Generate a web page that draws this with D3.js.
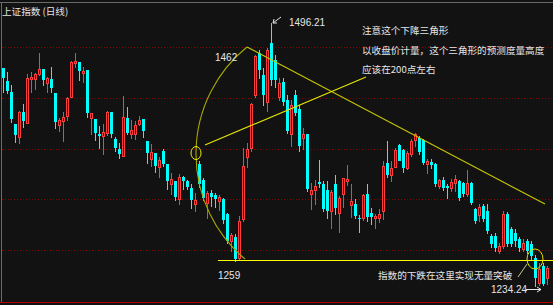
<!DOCTYPE html>
<html><head><meta charset="utf-8">
<script src="https://cdn.jsdelivr.net/npm/d3@7/dist/d3.min.js"></script>
<style>html,body{margin:0;padding:0;background:#121212;}svg{display:block;}</style>
</head><body>
<svg id="c" width="553" height="305"></svg>
<script>
// ---- data (Shanghai Composite, daily candles) ----
const openP = [1451,1438,1427,1396,1383,1408,1397,1440,1440,1445,
1450,1436,1440,1426,1395,1399,1404,1422,1456,1457,
1446,1449,1402,1401,1386,1384,1387,1408,1381,1371,
1364,1402,1386,1386,1396,1401,1379,1361,1367,1353,
1369,1356,1336,1339,1321,1343,1339,1332,1316,1356,
1340,1317,1327,1325,1319,1321,1306,1279,1283,1262,
1301,1363,1372,1424,1466,1444,1417,1476,1459,1422,
1437,1419,1386,1424,1410,1382,1386,1326,1330,1338,
1336,1330,1309,1336,1307,1326,1339,1315,1316,1302,
1302,1326,1307,1302,1302,1309,1357,1345,1353,1375,
1370,1352,1366,1380,1382,1380,1356,1358,1356,1334,
1340,1334,1332,1337,1339,1337,1326,1337,1311,1305,
1314,1309,1284,1284,1269,1274,1306,1291,1287,1281,
1271,1279,1276,1262,1237,1254,1242];
const highP = [1451,1447,1434,1396,1409,1415,1445,1447,1446,1466,
1450,1442,1452,1426,1402,1408,1422,1458,1466,1457,
1452,1449,1407,1401,1394,1396,1409,1408,1383,1377,
1423,1412,1400,1399,1404,1401,1379,1376,1367,1363,
1371,1356,1347,1339,1346,1344,1340,1336,1327,1359,
1342,1329,1330,1327,1325,1322,1307,1287,1286,1304,
1372,1377,1416,1464,1469,1451,1471,1496.21,1464,1441,
1441,1424,1419,1429,1414,1392,1386,1337,1340,1360,
1339,1339,1330,1345,1324,1342,1355,1336,1321,1305,
1326,1336,1312,1306,1311,1359,1379,1359,1372,1376,
1371,1369,1381,1387,1384,1381,1361,1361,1357,1341,
1343,1336,1341,1345,1340,1338,1350,1338,1312,1316,
1316,1316,1286,1287,1277,1309,1308,1293,1291,1283,
1281,1281,1279,1265,1257,1257,1254];
const lowP = [1427,1426,1398,1378,1377,1393,1397,1427,1430,1444,
1434,1427,1427,1392,1389,1379,1400,1422,1452,1439,
1437,1403,1386,1380,1372,1366,1385,1383,1369,1362,
1364,1386,1382,1381,1395,1383,1357,1354,1348,1343,
1354,1331,1326,1320,1316,1331,1331,1312,1309,1333,
1320,1302,1314,1313,1310,1297,1277,1269,1259,1261,
1299,1353,1369,1422,1441,1414,1409,1434,1432,1419,
1414,1387,1374,1405,1369,1371,1329,1311,1316,1333,
1309,1302,1292,1306,1288,1313,1335,1303,1302,1288,
1300,1299,1296,1292,1298,1301,1343,1339,1353,1359,
1348,1351,1364,1374,1366,1356,1347,1352,1334,1332,
1330,1322,1329,1329,1320,1324,1324,1316,1297,1299,
1299,1287,1273,1269,1267,1272,1274,1274,1274,1269,
1269,1267,1261,1234.24,1235,1235,1236];
const closeP = [1441,1428,1401,1385,1408,1399,1441,1442,1445,1450,
1439,1441,1431,1398,1400,1403,1421,1457,1458,1448,
1448,1407,1407,1387,1384,1388,1408,1386,1372,1366,
1403,1387,1390,1395,1400,1389,1367,1368,1354,1360,
1356,1339,1341,1323,1343,1339,1333,1320,1320,1336,
1322,1327,1323,1321,1323,1300,1279,1285,1261,1299,
1354,1371,1415,1463,1449,1424,1469,1439,1439,1436,
1417,1389,1414,1407,1374,1386,1331,1330,1334,1336,
1311,1309,1328,1312,1322,1342,1341,1319,1304,1301,
1325,1303,1303,1304,1306,1354,1345,1352,1370,1359,
1352,1367,1379,1386,1368,1357,1359,1355,1336,1340,
1332,1332,1338,1341,1322,1326,1337,1317,1299,1313,
1301,1289,1276,1272,1274,1306,1276,1276,1279,1272,
1277,1269,1264,1242,1251,1236,1252];

const gridPrices = [1472, 1421.5, 1371, 1320.5, 1270];
const highLabel = "1496.21", apexLabel = "1462", supportLabel = "1259", lowLabel = "1234.24";
const title = "上证指数 (日线)";
const noteLines = ["注意这个下降三角形", "以收盘价计量，这个三角形的预测度量高度", "应该在200点左右"];
const bottomNote = "指数的下跌在这里实现无量突破";

// annotation anchors: [index, price]
const apex = [61, 1472.3];
const resistEnd = [135.5, 1315.8];
const arcMid = [48.25, 1366.6];
const arcEnd = [60.5, 1261];
const pointerStart = [50.5, 1374.6], pointerEnd = [90.75, 1442.4];
const supportPrice = 1259, supportFrom = 53.75, supportTo = 137.5;
const breakCircle = [133, 1261];
const breakTick = [[131, 1256], [128.75, 1243]];

// ---- scales ----
const n = openP.length;
const x = d3.scaleLinear().domain([0, n - 1]).range([3, 3 + 4 * (n - 1)]);
const y = d3.scaleLinear().domain([1259, 1496.21]).range([261, 23]);
const px = p => [x(p[0]), y(p[1])];

const svg = d3.select("#c");
svg.append("rect").attr("width", 553).attr("height", 305).attr("fill", "#121212");
// frame
svg.append("line").attr("x1", 0).attr("x2", 553).attr("y1", 2.5).attr("y2", 2.5).attr("stroke", "#6a6a6a");
svg.append("line").attr("x1", 1.5).attr("x2", 1.5).attr("y1", 2).attr("y2", 302).attr("stroke", "#6a6a6a");
svg.append("line").attr("x1", 0).attr("x2", 553).attr("y1", 302.5).attr("y2", 302.5).attr("stroke", "#b00000");

// grid
svg.append("g").selectAll("line").data(gridPrices).join("line")
  .attr("x1", 2).attr("x2", 553)
  .attr("y1", d => Math.round(y(d)) + 0.5).attr("y2", d => Math.round(y(d)) + 0.5)
  .attr("stroke", "#8a0000").attr("stroke-dasharray", "1,2");

// candles
const idx = d3.range(n);
const RED = "#ff3c3c", CYAN = "#00ffff";
const g = svg.append("g");
idx.forEach(i => {
  const o = openP[i], c = closeP[i], h = highP[i], l = lowP[i];
  const cx = Math.round(x(i));
  const up = c >= o;
  const yt = Math.round(y(Math.max(o, c))), yb = Math.round(y(Math.min(o, c)));
  const yh = Math.round(y(h)), yl = Math.round(y(l));
  const col = up ? RED : CYAN;
  if (yt > yh) g.append("line").attr("x1", cx + .5).attr("x2", cx + .5).attr("y1", yh).attr("y2", yt).attr("stroke", col);
  if (yl > yb) g.append("line").attr("x1", cx + .5).attr("x2", cx + .5).attr("y1", yb).attr("y2", yl + 1).attr("stroke", col);
  if (up) {
    if (yb - yt >= 2) {
      g.append("rect").attr("x", cx - 0.5).attr("y", yt + 0.5).attr("width", 2).attr("height", yb - yt - 1 + 1)
        .attr("fill", "#2a0c0c").attr("stroke", col);
    } else {
      g.append("rect").attr("x", cx - 1).attr("y", yt).attr("width", 3).attr("height", Math.max(1, yb - yt + 1)).attr("fill", col);
    }
  } else {
    g.append("rect").attr("x", cx - 1).attr("y", yt).attr("width", 3).attr("height", Math.max(1, yb - yt)).attr("fill", col);
  }
});

// ---- annotations ----
const ann = svg.append("g");
// support line
ann.append("line").attr("x1", x(supportFrom)).attr("x2", x(supportTo))
  .attr("y1", Math.round(y(supportPrice)) - 0.5).attr("y2", Math.round(y(supportPrice)) - 0.5)
  .attr("stroke", "#ffff00").attr("stroke-width", 1.2);
// resistance line
const [ax, ay] = px(apex), [rx, ry] = px(resistEnd);
ann.append("line").attr("x1", ax).attr("y1", ay).attr("x2", rx).attr("y2", ry)
  .attr("stroke", "#c8c800").attr("stroke-width", 1.1);
// arc through apex, mid, end
const [mx, my] = px(arcMid), [ex, ey] = px(arcEnd);
function circ(p1, p2, p3) {
  const [x1, y1] = p1, [x2, y2] = p2, [x3, y3] = p3;
  const d = 2 * (x1 * (y2 - y3) + x2 * (y3 - y1) + x3 * (y1 - y2));
  const ux = ((x1*x1 + y1*y1) * (y2 - y3) + (x2*x2 + y2*y2) * (y3 - y1) + (x3*x3 + y3*y3) * (y1 - y2)) / d;
  const uy = ((x1*x1 + y1*y1) * (x3 - x2) + (x2*x2 + y2*y2) * (x1 - x3) + (x3*x3 + y3*y3) * (x2 - x1)) / d;
  return [ux, uy, Math.hypot(x1 - ux, y1 - uy)];
}
const [ccx, ccy, cr] = circ([ax, ay], [mx, my], [ex, ey]);
const path = d3.path();
const a0 = Math.atan2(ay - ccy, ax - ccx), a1 = Math.atan2(ey - ccy, ex - ccx);
path.arc(ccx, ccy, cr, a0, a1, true);
ann.append("path").attr("d", path.toString()).attr("fill", "none").attr("stroke", "#a8a800").attr("stroke-width", 1.1);
// small circle on arc
ann.append("ellipse").attr("cx", mx).attr("cy", my).attr("rx", 5).attr("ry", 6.5)
  .attr("fill", "none").attr("stroke", "#eeee00").attr("stroke-width", 1);
// pointer line
const [p1x, p1y] = px(pointerStart), [p2x, p2y] = px(pointerEnd);
ann.append("line").attr("x1", p1x).attr("y1", p1y).attr("x2", p2x).attr("y2", p2y)
  .attr("stroke", "#e6e600").attr("stroke-width", 1.1);
// breakdown circle
const [bx, by] = px(breakCircle);
ann.append("ellipse").attr("cx", bx).attr("cy", by).attr("rx", 8).attr("ry", 10)
  .attr("fill", "none").attr("stroke", "#e0e000").attr("stroke-width", 1);
const [t1x, t1y] = px(breakTick[0]), [t2x, t2y] = px(breakTick[1]);
ann.append("line").attr("x1", t1x).attr("y1", t1y).attr("x2", t2x).attr("y2", t2y)
  .attr("stroke", "#c8c890").attr("stroke-width", 1);

// texts
const TXT = "#e6e6e6";
const cjk = "'Noto Sans CJK SC', sans-serif", num = "'Liberation Sans', Arial, sans-serif";
svg.append("text").attr("x", 2).attr("y", 15).attr("fill", TXT).attr("font-family", cjk).attr("font-size", 9.6).text(title);
noteLines.forEach((t, i) => {
  svg.append("text").attr("x", 362).attr("y", 34 + i * 19.5).attr("fill", TXT)
    .attr("font-family", cjk).attr("font-size", 9.6).text(t);
});
svg.append("text").attr("x", 378).attr("y", 279).attr("fill", TXT).attr("font-family", cjk).attr("font-size", 9.6).text(bottomNote);

const hi = d3.maxIndex(highP), lo = d3.minIndex(lowP);
svg.append("text").attr("x", x(hi) + 18).attr("y", y(highP[hi]) + 3).attr("fill", TXT)
  .attr("font-family", num).attr("font-size", 10).text(highLabel);
// arrow to high
const hx = x(hi) + 1, hy = y(highP[hi]);
ann.append("path").attr("d", `M${hx + 9},${hy - 6} L${hx + 1},${hy} M${hx + 1},${hy} l1,-4 M${hx + 1},${hy} l4,0`)
  .attr("stroke", TXT).attr("fill", "none");
svg.append("text").attr("x", ax - 32).attr("y", ay + 14).attr("fill", TXT)
  .attr("font-family", num).attr("font-size", 10).text(apexLabel);
svg.append("text").attr("x", x(supportFrom)).attr("y", 279).attr("fill", TXT)
  .attr("font-family", num).attr("font-size", 10).text(supportLabel);
svg.append("text").attr("x", 491).attr("y", 293).attr("fill", TXT)
  .attr("font-family", num).attr("font-size", 10).text(lowLabel);
const arrowEnd = x(lo) + 6;
ann.append("path").attr("d", `M526,289.5 L${arrowEnd},289.5 M${arrowEnd},289.5 l-4,-2.5 M${arrowEnd},289.5 l-4,2.5`)
  .attr("stroke", TXT).attr("fill", "none");
</script>
</body></html>
